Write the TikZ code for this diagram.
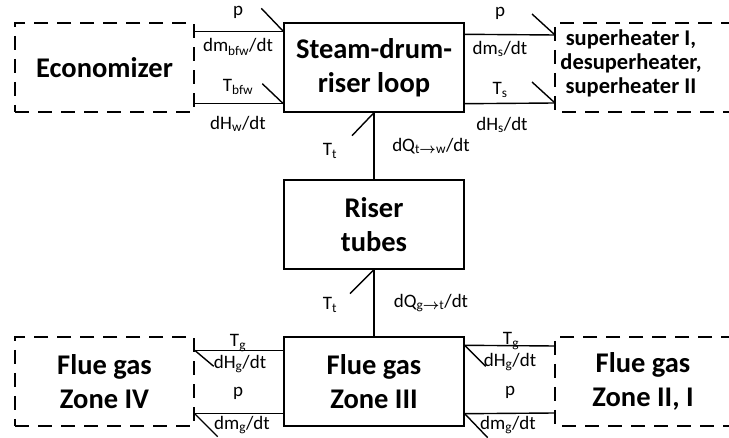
\documentclass[tikz,border=0pt]{standalone}
\usepackage{amssymb,amsmath}
\usepackage{fontspec}
\setmainfont{Carlito}
\usetikzlibrary{positioning}

\begin{document}
\begin{tikzpicture}[
            x = 1pt, y = -1pt, % pixel units, y downwards
            line width = 1.4pt, % line style
            block/.style = {draw, minimum width=180pt, minimum height=89pt, align=center,
                            inner sep=0pt, font=\bfseries\fontsize{28.5}{34}\selectfont},
            dblock/.style = {block, dashed, dash pattern=on 14pt off 9pt},
            dline/.style = {dash pattern=on 14pt off 9pt},
            lbl/.style = {inner sep=0pt, font=\fontsize{19}{22}\selectfont}
        ]

\useasboundingbox (0,0) rectangle (729,438);

\node[block] (SD) at (374,67.5) {Steam-drum-\\riser loop};
\node[block] (RT) at (374,224.5) {Riser\\tubes};
\node[block] (FG3) at (374,381.5) {Flue gas\\Zone III};
\node[dblock, minimum width=179pt] (ECO) at (104.5,67.5) {Economizer};
\node[dblock, minimum width=179pt] (FG4) at (104.5,381.5) {Flue gas\\Zone IV};

% open dashed boxes on the right
\coordinate (SHnw) at (555,23);
\coordinate (SHsw) at (555,112);
\coordinate (FG2nw) at (555,337);
\coordinate (FG2sw) at (555,426);
\node[align=center, font=\bfseries\fontsize{22.5}{24}\selectfont] (SH) at (631,63) {superheater I,\\desuperheater,\\superheater II};
\node[align=center, font=\bfseries\fontsize{28.5}{34}\selectfont] (FG2) at (643,381.5) {Flue gas\\Zone II, I};
\draw[dline] (735,23) -- (SHnw) -- (SHsw) -- (735,112);
\draw[dline] (735,337) -- (FG2nw) -- (FG2sw) -- (735,426);

% connectors
\draw ([yshift=-9pt]ECO.north east) -- ([yshift=-9pt]SD.north west);
\draw ([yshift=9pt]ECO.south east) -- ([yshift=9pt]SD.south west);
\draw ([yshift=-12pt]SD.north east) -- ([yshift=-12pt]SHnw);
\draw ([yshift=9pt]SD.south east) -- ([yshift=9pt]SHsw);
\draw (SD.south) -- (RT.north);
\draw (RT.south) -- (FG3.north);
\draw ([yshift=-14pt]FG4.north east) -- ([yshift=-14pt]FG3.north west);
\draw ([yshift=13pt]FG4.south east) -- ([yshift=13pt]FG3.south west);
\draw ([yshift=-9pt]FG3.north east) -- ([yshift=-9pt]FG2nw);
\draw ([yshift=13pt]FG3.south east) -- ([yshift=13pt]FG2sw);

% sensor ticks
\draw ([yshift=-9pt]SD.north west) -- ++(-22,-23);
\draw ([yshift=9pt]SD.south west) -- ++(-21,-20);
\draw ([yshift=-12pt]SHnw) -- ++(-23,-21);
\draw ([yshift=9pt]SHsw) -- ++(-23,-21);
\draw (SD.south) -- ++(-22,23);
\draw (RT.south) -- ++(-24,24);
\draw ([yshift=-14pt]FG4.north east) -- ++(19,16);
\draw ([yshift=13pt]FG4.south east) -- ++(23,23);
\draw ([yshift=-9pt]FG3.north east) -- ++(21,21);
\draw ([yshift=13pt]FG3.south east) -- ++(23,24);

% labels
\node[lbl] (l1) at (238,12) {p};
\node[lbl] (l2) at (238,47) {dm\textsubscript{bfw}/dt};
\node[lbl] (l3) at (238,87) {T\textsubscript{bfw}};
\node[lbl] (l4) at (238,124) {dH\textsubscript{w}/dt};
\node[lbl] (r1) at (500,13) {p};
\node[lbl] (r2) at (500,49) {dm\textsubscript{s}/dt};
\node[lbl] (r3) at (500,90) {T\textsubscript{s}};
\node[lbl] (r4) at (502,125) {dH\textsubscript{s}/dt};
\node[lbl] (m1) at (330,151) {T\textsubscript{t}};
\node[lbl] (m2) at (431,146) {dQ\textsubscript{t$\boldsymbol{\rightarrow}$w}/dt};
\node[lbl] (m3) at (330,305) {T\textsubscript{t}};
\node[lbl] (m4) at (431,303) {dQ\textsubscript{g$\boldsymbol{\rightarrow}$t}/dt};
\node[lbl] (b1) at (238,343) {T\textsubscript{g}};
\node[lbl] (b2) at (240,364) {dH\textsubscript{g}/dt};
\node[lbl] (b3) at (238,393) {p};
\node[lbl] (b4) at (242,425) {dm\textsubscript{g}/dt};
\node[lbl] (c1) at (511,341) {T\textsubscript{g}};
\node[lbl] (c2) at (510,362) {dH\textsubscript{g}/dt};
\node[lbl] (c3) at (510,392) {p};
\node[lbl] (c4) at (508,425) {dm\textsubscript{g}/dt};
\end{tikzpicture}
\end{document}
